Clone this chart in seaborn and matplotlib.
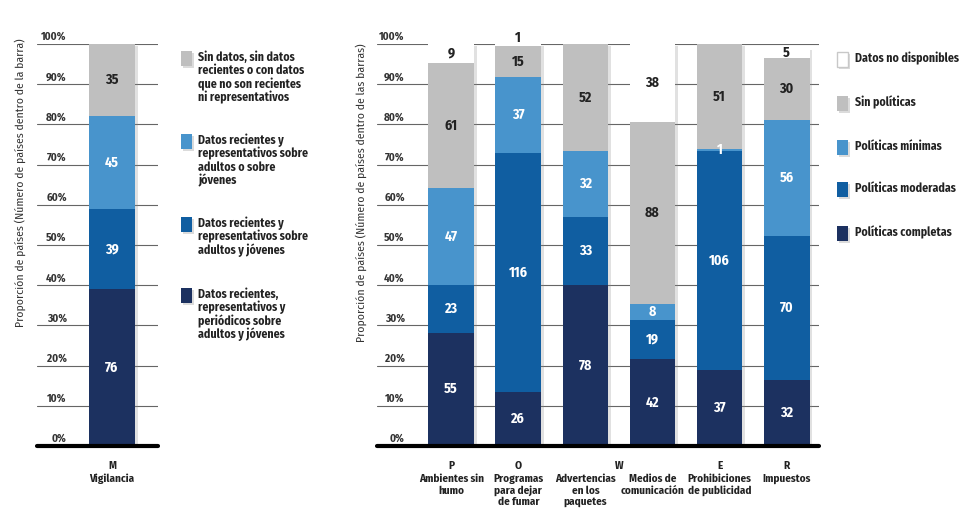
import numpy as np
import seaborn as sns
import matplotlib
matplotlib.use('Agg')
import matplotlib.pyplot as plt
import matplotlib.patheffects as pe
from matplotlib.patches import Rectangle
from matplotlib.transforms import ScaledTranslation

n_countries = 195

# Left panel: monitoring (M)
mon_cats = ['Vigilancia']
mon_codes = ['M']
mon_periodic = [76]
mon_adults_youth = [39]
mon_adults_or_youth = [45]
mon_none = [35]
mon_legend = [
    'Sin datos, sin datos\nrecientes o con datos\nque no son recientes\nni representativos',
    'Datos recientes y\nrepresentativos sobre\nadultos o sobre\njóvenes',
    'Datos recientes y\nrepresentativos sobre\nadultos y jóvenes',
    'Datos recientes,\nrepresentativos y\nperiódicos sobre\nadultos y jóvenes',
]

# Right panel: policies (P, O, W, E, R)
pol_cats = ['Ambientes sin\nhumo', 'Programas\npara dejar\nde fumar', 'Advertencias\nen los\npaquetes',
            'Medios de\ncomunicación', 'Prohibiciones\nde publicidad', 'Impuestos']
pol_codes = ['P', 'O', 'W', 'W', 'E', 'R']
pol_complete = [55, 26, 78, 42, 37, 32]
pol_moderate = [23, 116, 33, 19, 106, 70]
pol_minimal = [47, 37, 32, 8, 1, 56]
pol_none = [61, 15, 52, 88, 51, 30]
pol_nodata = [9, 1, 0, 38, 0, 5]
pol_legend = ['Datos no disponibles', 'Sin políticas', 'Políticas mínimas',
              'Políticas moderadas', 'Políticas completas']

navy = '#1c3160'
mid = '#105ea1'
light = '#4894cc'
gray = '#bfbfbf'
white = '#ffffff'
dark_txt = '#222222'

sns.set_style('white')
plt.rcParams['font.family'] = ['Fira Sans Condensed', 'DejaVu Sans']

W, H = 980, 523
fig = plt.figure(figsize=(W / 100, H / 100), dpi=100)
bar_shadow = [pe.SimplePatchShadow(offset=(2, -1.5), shadow_rgbFace='#888888', alpha=0.25), pe.Normal()]
sq_shadow = [pe.SimplePatchShadow(offset=(1.2, -1.2), shadow_rgbFace='#999999', alpha=0.35), pe.Normal()]


def fx(x):
    return x / W


def fy(y):
    return 1 - y / H


def stacked(ax, cats, layers, colors, txtcolors):
    tops = np.cumsum(np.array(layers, dtype=float), axis=0) / n_countries * 100
    for k in range(len(layers) - 1, -1, -1):
        n0 = len(ax.patches)
        sns.barplot(x=cats, y=tops[k], order=cats, color=colors[k], saturation=1,
                    width=0.68, linewidth=0, errorbar=None, ax=ax, zorder=2)
        if k == len(layers) - 1:
            for p in ax.patches[n0:]:
                p.set_path_effects(bar_shadow)
    base = np.zeros(len(cats))
    for k, vals in enumerate(layers):
        for i, v in enumerate(vals):
            if v == 0:
                continue
            lo = base[i] / n_countries * 100
            hi = (base[i] + v) / n_countries * 100
            y = (lo + hi) / 2
            if k == len(layers) - 1 and hi - lo < 2:
                y = hi + 1.4
            ax.text(i, y, str(v), ha='center', va='center', color=txtcolors[k],
                    fontsize=10, fontweight='bold', zorder=6, clip_on=False)
        base += np.array(vals)


def style_axis(ax, cats, codes, xlim, dx):
    ax.set_xlim(*xlim)
    ax.set_ylim(0, 100)
    ax.set_xlabel('')
    ax.set_ylabel('')
    ax.set_yticks(range(0, 101, 10))
    ax.set_yticklabels([f'{t}%' for t in range(0, 101, 10)])
    ax.tick_params(axis='y', length=0, pad=0, labelsize=8, labelcolor='#333333')
    ax.grid(axis='y', color='#666666', lw=0.8)
    ax.set_axisbelow(True)
    sns.despine(ax=ax, left=True, bottom=True)
    ax.axhline(0, color='black', lw=3, zorder=5, clip_on=False)
    off = ScaledTranslation(dx / 100, 8 / 100, fig.dpi_scale_trans)
    for lab in ax.get_yticklabels():
        lab.set_transform(lab.get_transform() + off)
        lab.set_fontweight('bold')
    ax.set_xticks(range(len(cats)))
    ax.set_xticklabels(cats, fontsize=8, fontweight='bold', color='#222222', linespacing=1.1)
    ax.tick_params(axis='x', length=0, pad=20)
    for c in dict.fromkeys(codes):
        pos = np.mean([i for i, cc in enumerate(codes) if cc == c])
        ax.annotate(c, xy=(pos, 0), xycoords=('data', 'axes fraction'), xytext=(0, -14.4),
                    textcoords='offset points', ha='center', va='center',
                    fontsize=8, fontweight='bold', color='#222222')


ax1 = fig.add_axes([fx(36.7), fy(446), (157.7 - 36.7) / W, 402 / H])
stacked(ax1, mon_cats, [mon_periodic, mon_adults_youth, mon_adults_or_youth, mon_none],
        [navy, mid, light, gray], ['white', 'white', 'white', dark_txt])
style_axis(ax1, mon_cats, mon_codes, (-1.122, 0.681), 30)

ax2 = fig.add_axes([fx(376.7), fy(446), (819.3 - 376.7) / W, 402 / H])
stacked(ax2, pol_cats, [pol_complete, pol_moderate, pol_minimal, pol_none, pol_nodata],
        [navy, mid, light, gray, white], ['white', 'white', 'white', dark_txt, dark_txt])
style_axis(ax2, pol_cats, pol_codes, (-1.11, 5.486), 28)

fig.text(fx(20), fy(38), 'Proporción de países (Número de países dentro de la barra)',
         rotation=90, ha='center', va='top', fontsize=8.4, color='#333333')
fig.text(fx(361), fy(43), 'Proporción de países (Número de países dentro de las barras)',
         rotation=90, ha='center', va='top', fontsize=8.4, color='#333333')


def legend_item(xsq, xtxt, ytop, color, label, step=13.5):
    lines = label.split('\n')
    edge = '#c8c8c8' if color == white else 'none'
    fig.add_artist(Rectangle((fx(xsq), fy(ytop - 6 + 15)), 11 / W, 15 / H, transform=fig.transFigure,
                             facecolor=color, edgecolor=edge, lw=1, path_effects=sq_shadow))
    for j, line in enumerate(lines):
        fig.text(fx(xtxt), fy(ytop + j * step), line, ha='left', va='center',
                 fontsize=8.5, fontweight='bold', color='#222222')


for ytop, color, label in zip([57, 140, 223, 294], [gray, light, mid, navy], mon_legend):
    legend_item(181, 198, ytop, color, label)

for ytop, color, label in zip([58, 102, 146, 188, 232], [white, gray, light, mid, navy], pol_legend):
    legend_item(837, 855, ytop, color, label)

fig.savefig('out.png', dpi=100)
